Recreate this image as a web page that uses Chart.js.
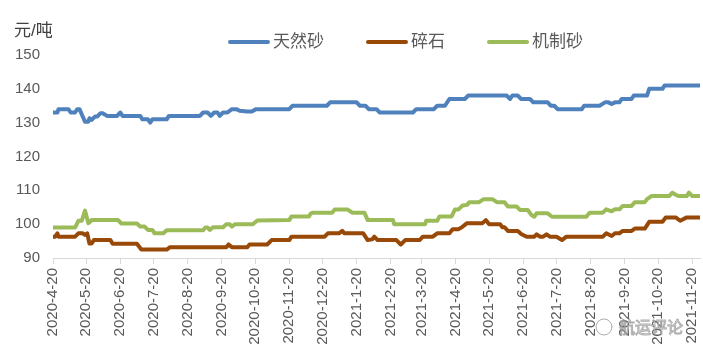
<!DOCTYPE html>
<html>
<head>
<meta charset="utf-8">
<script src="https://cdn.jsdelivr.net/npm/chart.js@4.4.0/dist/chart.umd.min.js"></script>
<style>
  body { margin: 0; background: #fff; }
  #wrap { width: 703px; height: 361px; }
</style>
</head>
<body>
<div id="wrap"><canvas id="chart" width="703" height="361"></canvas></div>
<script>
// x values are days counted from 2020-4-20
const monthDays = [0,30,61,91,122,153,183,214,244,275,306,334,365,395,426,456,487,518,548,579];
const monthLabels = ['2020-4-20','2020-5-20','2020-6-20','2020-7-20','2020-8-20','2020-9-20','2020-10-20',
  '2020-11-20','2020-12-20','2021-1-20','2021-2-20','2021-3-20','2021-4-20','2021-5-20','2021-6-20',
  '2021-7-20','2021-8-20','2021-9-20','2021-10-20','2021-11-20'];

const seriesNames = ['天然砂', '碎石', '机制砂'];

// 天然砂
const sandDays = [0,4,5,14,16,20,22,24,26,29,32,33,35,38,40,43,45,49,58,61,63,79,81,86,88,90,103,105,133,136,
  140,143,146,149,151,154,158,162,166,169,176,180,184,214,217,248,251,275,278,283,286,293,296,326,329,345,348,
  355,359,373,376,411,414,416,421,424,432,435,448,451,454,457,479,481,495,500,503,506,509,513,515,524,526,538,
  540,552,554,586];
const sandPrice = [133,133,134,134,133,133,134,134,132.5,130.3,130.3,131.3,130.8,131.8,131.8,132.8,132.8,132,132,133,
  132,132,131,131,130,131,131,132,132,133,133,132,133,133,132,133,133,134,134,133.5,133.3,133.3,134,134,135,135,
  136,136,135,135,134,134,133,133,134,134,135,135,137,137,138,138,137,138,138,137,137,136,136,135,135,134,134,135,
  135,136,136,135.5,136,136,137,137,138,138,140,140,141,141];

// 碎石
const stoneDays = [0,2,4,5,20,23,27,29,31,33,35,37,52,54,76,80,103,106,157,159,162,176,178,194,198,214,216,246,
  249,259,262,264,281,285,289,291,294,311,315,319,332,335,344,348,359,362,367,370,375,389,392,395,405,407,409,
  412,421,424,429,436,438,441,444,447,450,456,461,465,498,501,506,509,513,516,524,527,536,540,552,555,564,568,
  574,586];
const stonePrice = [96.3,96.3,97.3,96.3,96.3,97.3,97.3,96.8,97.3,94.3,94.3,95.3,95.3,94.2,94.2,92.5,92.5,93.2,
  93.2,94,93.2,93.2,94,94,95.3,95.3,96.3,96.3,97.3,97.3,98,97.3,97.3,95.3,95.5,96.3,95.3,95.3,94,95.3,95.3,96.3,
  96.3,97.3,97.3,98.5,98.5,99,100.3,100.3,101.2,100,100,99.1,99.1,98,98,97.1,96.3,96.3,97,96.3,96.3,97,96.3,96.3,
  95.3,96.3,96.3,97.3,96.5,97.3,97.3,98,98,98.7,98.7,100.7,100.7,102,102,101,102,102];

// 机制砂
const msandDays = [0,20,23,26,29,32,33,35,59,62,76,79,83,86,90,92,100,103,136,138,140,142,145,154,157,160,162,
  165,181,185,214,216,232,233,235,253,255,267,271,282,285,308,309,337,338,348,350,361,364,367,371,375,377,386,
  390,398,402,409,412,420,423,430,433,436,438,448,452,483,486,498,501,506,509,513,516,524,527,536,538,542,558,
  561,565,567,574,576,579,586];
const msandPrice = [99,99,101,101,104,100.3,100.5,101.2,101.2,100.2,100.2,99.3,99.3,98.3,98.3,97.3,97.3,98.2,98.2,
  99,99,98.3,99.1,99.1,100,100,99.3,100,100,101.1,101.2,102.3,102.3,103,103.4,103.4,104.3,104.3,103.4,103.4,
  101.2,101.2,100,100,101,101,102.3,102.3,104.3,104.3,105.5,105.7,106.5,106.5,107.4,107.4,106.5,106.5,105.2,
  105.2,104.2,104.2,102.8,102.2,103.2,103.2,102.2,102.2,103.4,103.4,104.4,103.8,104.4,104.4,105.4,105.4,106.5,
  106.5,107.4,108.3,108.3,109.3,108.5,108.3,108.3,109.3,108.3,108.3];

const colors = ['#4f81bd', '#984807', '#9bbb59'];
const textColor = '#595959';
const cjk = '"Liberation Sans", "Noto Sans CJK SC", sans-serif';

function toPoints(days, vals) {
  return days.map((d, i) => ({ x: d, y: vals[i] }));
}

function makeSet(i, days, vals) {
  return {
    label: seriesNames[i],
    data: toPoints(days, vals),
    borderColor: colors[i],
    backgroundColor: colors[i],
    borderWidth: 4,
    pointRadius: 0,
    borderJoinStyle: 'round',
    borderCapStyle: 'round',
    tension: 0
  };
}

// legend + unit label + watermark
const extras = {
  id: 'extras',
  afterDraw(chart) {
    const ctx = chart.ctx;
    ctx.save();
    ctx.font = '17px ' + cjk;
    ctx.fillStyle = '#404040';
    ctx.textBaseline = 'middle';
    ctx.textAlign = 'left';
    ctx.fillText('元/吨', 14, 31);

    let x = 230;
    const y = 42;
    chart.data.datasets.forEach(ds => {
      ctx.strokeStyle = ds.borderColor;
      ctx.lineWidth = 4;
      ctx.lineCap = 'round';
      ctx.beginPath();
      ctx.moveTo(x, y);
      ctx.lineTo(x + 38, y);
      ctx.stroke();
      ctx.fillStyle = textColor;
      ctx.fillText(ds.label, x + 43, y);
      x += 43 + ctx.measureText(ds.label).width + 44;
    });

    // watermark
    ctx.strokeStyle = 'rgba(120,120,120,0.6)';
    ctx.lineWidth = 1;
    ctx.beginPath();
    ctx.arc(604, 327, 8, 0, Math.PI * 2);
    ctx.stroke();
    ctx.font = '16px "Noto Sans CJK SC", sans-serif';
    ctx.fillStyle = 'rgba(255,255,255,0.7)';
    ctx.fillText('航运评论', 619, 327);
    ctx.strokeText('航运评论', 619, 327);
    ctx.restore();
  }
};

new Chart(document.getElementById('chart'), {
  type: 'line',
  data: {
    datasets: [
      makeSet(0, sandDays, sandPrice),
      makeSet(1, stoneDays, stonePrice),
      makeSet(2, msandDays, msandPrice)
    ]
  },
  options: {
    responsive: false,
    animation: false,
    layout: { padding: { top: 55, right: 3, left: 0, bottom: 0 } },
    plugins: { legend: { display: false }, tooltip: { enabled: false } },
    scales: {
      x: {
        type: 'linear',
        min: 0,
        max: 586,
        afterBuildTicks: axis => { axis.ticks = monthDays.map(v => ({ value: v })); },
        afterFit: scale => {
          scale.height = 103;
          scale.paddingLeft = 0;
          scale.paddingRight = 0;
        },
        ticks: {
          autoSkip: false,
          minRotation: 90,
          maxRotation: 90,
          padding: 4,
          color: textColor,
          font: { size: 15, family: cjk },
          callback: value => monthLabels[monthDays.indexOf(value)]
        },
        grid: { drawOnChartArea: false, drawTicks: true, tickLength: 6, color: '#d9d9d9' },
        border: { color: '#d9d9d9', width: 1 }
      },
      y: {
        min: 90,
        max: 150,
        afterFit: scale => { scale.width = 53; },
        ticks: {
          stepSize: 10,
          padding: 5,
          color: textColor,
          font: { size: 15, family: cjk }
        },
        grid: { display: false },
        border: { display: false }
      }
    }
  },
  plugins: [extras]
});
</script>
</body>
</html>
